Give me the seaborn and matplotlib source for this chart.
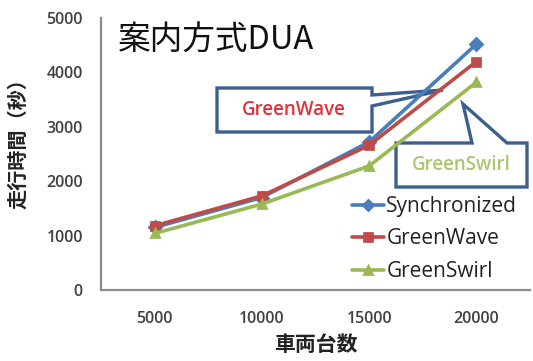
import matplotlib
matplotlib.use("Agg")
import matplotlib.pyplot as plt
from matplotlib.patches import Polygon
import seaborn as sns
import pandas as pd

# Travel time (s) by number of vehicles for each guidance method
vehicles = ["5000", "10000", "15000", "20000"]
synchronized = [1150, 1700, 2720, 4520]
greenwave = [1180, 1730, 2660, 4200]
greenswirl = [1040, 1580, 2280, 3820]
methods = ["Synchronized", "GreenWave", "GreenSwirl"]
yticks = [0, 1000, 2000, 3000, 4000, 5000]

df = pd.DataFrame({
    "車両台数": vehicles * 3,
    "走行時間": synchronized + greenwave + greenswirl,
    "方式": [m for m in methods for _ in vehicles],
})

sns.set_theme(style="white")
plt.rcParams["font.family"] = ["Open Sans", "Noto Sans CJK JP"]

W, H = 533, 361
fig = plt.figure(figsize=(W / 100, H / 100), dpi=100)
ax = fig.add_axes([101 / W, 1 - 290 / H, 429 / W, 272 / H])

colors = ["#4a7ebb", "#be4b48", "#98b954"]
sns.pointplot(data=df, x="車両台数", y="走行時間", hue="方式", hue_order=methods,
              palette=colors, markers=["D", "s", "^"], linestyles="-",
              errorbar=None, markersize=6, linewidth=2.6, ax=ax)
for line in ax.lines:
    line.set_zorder(3)

ax.set_ylim(0, 5000)
ax.set_xlim(-0.5, 3.5)
ax.set_yticks(yticks)
ax.set_yticklabels([str(v) for v in yticks])
ax.tick_params(axis="both", length=0, labelsize=11.5, colors="#404040")
ax.tick_params(axis="y", pad=13)
ax.tick_params(axis="x", pad=15)
for lab in ax.get_xticklabels() + ax.get_yticklabels():
    lab.set_fontweight("semibold")

for side in ["top", "right"]:
    ax.spines[side].set_visible(False)
for side in ["left", "bottom"]:
    ax.spines[side].set_color("#8c8c8c")
    ax.spines[side].set_linewidth(1.6)

ax.set_xlabel("車両台数", fontsize=15, fontweight="bold", color="#222222",
              family=["Noto Sans CJK JP"], labelpad=5)
ax.set_ylabel("走行時間（秒）", fontsize=14.5, fontweight="bold", color="#222222",
              family=["Noto Sans CJK JP"], labelpad=6)
ax.yaxis.set_label_coords(-0.17, 0.555)

fig.text(118 / W, 1 - 40 / H, "案内方式DUA", fontsize=23.5, va="center", ha="left",
         family=["Noto Sans CJK JP"], color="#111111")

handles, labels = ax.get_legend_handles_labels()
ax.legend(handles, labels, loc="upper left", frameon=False,
          bbox_to_anchor=(352 / W, 1 - 196 / H), bbox_transform=fig.transFigure,
          borderaxespad=0, borderpad=0, fontsize=15, handlelength=1.55,
          handletextpad=0.1, labelspacing=0.55, labelcolor="#222222",
          markerscale=0.85)

# Callout boxes naming the two methods, drawn beneath the series lines
def px(pts):
    return [(x / W, 1 - y / H) for x, y in pts]

box_color = "#3d5f8f"
wave_callout = px([(217, 88), (372, 88), (372, 95), (443, 90), (372, 106),
                   (372, 132), (217, 132)])
swirl_callout = px([(396, 143), (472, 143), (463, 104), (507, 143), (527, 143),
                    (527, 187), (396, 187)])
for verts in (wave_callout, swirl_callout):
    ax.add_patch(Polygon(verts, closed=True, transform=fig.transFigure,
                         facecolor="white", edgecolor=box_color,
                         linewidth=2.4, zorder=2, clip_on=False))

fig.text(294 / W, 1 - 110 / H, "GreenWave", fontsize=13.5, fontweight="semibold",
         color="#e0313b", ha="center", va="center")
fig.text(461 / W, 1 - 165 / H, "GreenSwirl", fontsize=13.5, fontweight="semibold",
         color="#a9c770", ha="center", va="center")

fig.savefig("out.png", dpi=100)
